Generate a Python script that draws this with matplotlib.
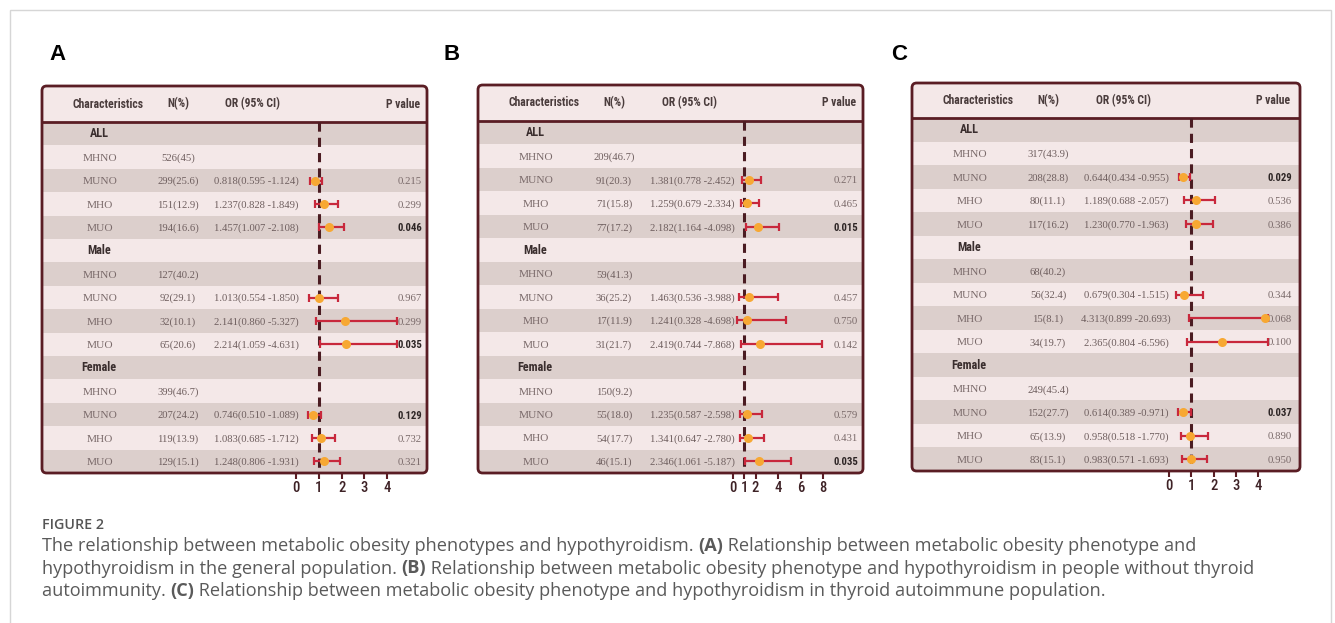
import matplotlib.pyplot as plt
import matplotlib.transforms as mtrans
from matplotlib import font_manager as fm
from matplotlib.patches import FancyBboxPatch, Rectangle

groups = ["ALL", "Male", "Female"]
phenotypes = ["MHNO", "MUNO", "MHO", "MUO"]

# panel A: general population
A_n = ["526(45)", "299(25.6)", "151(12.9)", "194(16.6)",
       "127(40.2)", "92(29.1)", "32(10.1)", "65(20.6)",
       "399(46.7)", "207(24.2)", "119(13.9)", "129(15.1)"]
A_or = [None, 0.818, 1.237, 1.457, None, 1.013, 2.141, 2.214, None, 0.746, 1.083, 1.248]
A_lo = [None, 0.595, 0.828, 1.007, None, 0.554, 0.860, 1.059, None, 0.510, 0.685, 0.806]
A_hi = [None, 1.124, 1.849, 2.108, None, 1.850, 5.327, 4.631, None, 1.089, 1.712, 1.931]
A_p = [None, "0.215", "0.299", "0.046", None, "0.967", "0.299", "0.035", None, "0.129", "0.732", "0.321"]
A_bold = ["0.046", "0.035", "0.129"]
A_ticks = [0, 1, 2, 3, 4]

# panel B: without thyroid autoimmunity
B_n = ["209(46.7)", "91(20.3)", "71(15.8)", "77(17.2)",
       "59(41.3)", "36(25.2)", "17(11.9)", "31(21.7)",
       "150(9.2)", "55(18.0)", "54(17.7)", "46(15.1)"]
B_or = [None, 1.381, 1.259, 2.182, None, 1.463, 1.241, 2.419, None, 1.235, 1.341, 2.346]
B_lo = [None, 0.778, 0.679, 1.164, None, 0.536, 0.328, 0.744, None, 0.587, 0.647, 1.061]
B_hi = [None, 2.452, 2.334, 4.098, None, 3.988, 4.698, 7.868, None, 2.598, 2.780, 5.187]
B_p = [None, "0.271", "0.465", "0.015", None, "0.457", "0.750", "0.142", None, "0.579", "0.431", "0.035"]
B_bold = ["0.015", "0.035"]
B_ticks = [0, 1, 2, 4, 6, 8]

# panel C: thyroid autoimmune population
C_n = ["317(43.9)", "208(28.8)", "80(11.1)", "117(16.2)",
       "68(40.2)", "56(32.4)", "15(8.1)", "34(19.7)",
       "249(45.4)", "152(27.7)", "65(13.9)", "83(15.1)"]
C_or = [None, 0.644, 1.189, 1.230, None, 0.679, 4.313, 2.365, None, 0.614, 0.958, 0.983]
C_lo = [None, 0.434, 0.688, 0.770, None, 0.304, 0.899, 0.804, None, 0.389, 0.518, 0.571]
C_hi = [None, 0.955, 2.057, 1.963, None, 1.515, 20.693, 6.596, None, 0.971, 1.770, 1.693]
C_p = [None, "0.029", "0.536", "0.386", None, "0.344", "0.068", "0.100", None, "0.037", "0.890", "0.950"]
C_bold = ["0.029", "0.037"]
C_ticks = [0, 1, 2, 3, 4]

W, H = 1335, 623
BORDER = "#5a1d24"
DARK = "#dccfcc"
LIGHT = "#f4e8e8"
SERIF = "Liberation Serif"

# a narrow sans if one is installed, else Liberation Sans
have = {(f.name, f.stretch) for f in fm.fontManager.ttflist}
SANS, STRETCH = "Liberation Sans", "normal"
for name, st in [("Liberation Sans Narrow", None), ("Roboto Condensed", None),
                 ("Noto Sans", "condensed"), ("Open Sans Condensed", None)]:
    if any(n == name and (st is None or s == st) for n, s in have):
        SANS, STRETCH = name, (st or "normal")
        break

fig = plt.figure(figsize=(W / 100, H / 100), dpi=100)
renderer = fig.canvas.get_renderer()


def fit(s, target, family, weight="normal", stretch="normal", cap=11.0):
    t = fig.text(0, 0, s, family=family, fontsize=10, fontweight=weight, fontstretch=stretch)
    w = t.get_window_extent(renderer).width
    t.remove()
    return min(cap, 10 * target / w)


HDR = fit("Characteristics", 71, SANS, "bold", STRETCH)
GRP = fit("Female", 35, SANS, "bold", STRETCH)
LAB = fit("MHNO", 35, SERIF)
VAL = fit("0.818(0.595 -1.124)", 85, SERIF)
PV = fit("0.215", 24, SERIF)
PB = fit("0.046", 25, SANS, "bold", STRETCH)

# outer light frame
fig.patches.append(Rectangle((10 / W, -0.1), 1321 / W, 1.1 - 10 / H, transform=fig.transFigure,
                             fill=False, ec="#d6d6d6", lw=1))


def panel(box, hdr_h, x0, ppu, ticks, n, orv, lo, hi, p, pbold, clip):
    left, top, right, bottom = box
    bw = right - left
    ax = fig.add_axes([left / W, 1 - bottom / H, bw / W, (bottom - top) / H])
    row_px = (bottom - top - hdr_h) / 15
    hdr = hdr_h / row_px
    ax.set_xlim((left - x0) / ppu, (right - x0) / ppu)
    ax.set_ylim(15, -hdr)
    for s in ax.spines.values():
        s.set_visible(False)
    ax.set_facecolor("none")
    ax.set_yticks([])
    ax.set_xticks(ticks)
    ax.tick_params(axis="x", direction="out", length=4, width=1.5, color=BORDER,
                   labelsize=10.5, labelcolor="#3e2226", pad=1.5)
    for t in ax.get_xticklabels():
        t.set_family(SANS)
        t.set_fontstretch(STRETCH)
        t.set_fontweight("medium")

    ax.axhspan(-hdr, 0, color=LIGHT, lw=0)
    for i in range(15):
        ax.axhspan(i, i + 1, color=DARK if i % 2 == 0 else LIGHT, lw=0)
    ax.axhline(0, color=BORDER, lw=2)
    ax.add_patch(FancyBboxPatch((0, 0), 1, 1, boxstyle="round,pad=0,rounding_size=0.012",
                                transform=ax.transAxes, fc="none", ec=BORDER, lw=2,
                                clip_on=False, zorder=6))
    ax.vlines(1, 0, 15, colors="#4b1c22", linestyles=(0, (3, 2)), lw=2.2, zorder=3)

    tr = mtrans.blended_transform_factory(ax.transAxes, ax.transData)
    hy = -hdr / 2
    hkw = dict(transform=tr, va="center", family=SANS, fontstretch=STRETCH, fontsize=HDR,
               fontweight="bold", color="#4a3c3c")
    ax.text(66 / bw, hy, "Characteristics", ha="center", **hkw)
    ax.text(136 / bw, hy, "N(%)", ha="center", **hkw)
    ax.text(211 / bw, hy, "OR (95% CI)", ha="center", **hkw)
    ax.text(378 / bw, hy, "P value", ha="right", **hkw)

    k = 0
    for gi, g in enumerate(groups):
        r = gi * 5
        ax.text(57 / bw, r + 0.5, g, transform=tr, ha="center", va="center", family=SANS,
                fontstretch=STRETCH, fontsize=GRP, fontweight="bold", color="#3a2e2e")
        for ph in phenotypes:
            r += 1
            y = r + 0.55
            ax.text(58 / bw, y, ph, transform=tr, ha="center", va="center", family=SERIF,
                    fontsize=LAB, color="#7a6a6a")
            ax.text(136 / bw, y, n[k], transform=tr, ha="center", va="center", family=SERIF,
                    fontsize=VAL, color="#6e5e5e")
            if orv[k] is not None:
                ax.text(214 / bw, y, f"{orv[k]:.3f}({lo[k]:.3f} -{hi[k]:.3f})", transform=tr,
                        ha="center", va="center", family=SERIF, fontsize=VAL, color="#6e5e5e")
                if p[k] in pbold:
                    ax.text(380 / bw, y, p[k], transform=tr, ha="right", va="center",
                            family=SANS, fontstretch=STRETCH, fontsize=PB, fontweight="bold",
                            color="#2e2626")
                else:
                    ax.text(380 / bw, y, p[k], transform=tr, ha="right", va="center",
                            family=SERIF, fontsize=PV, color="#7a6a6a")
                h = min(hi[k], clip)
                ax.errorbar(orv[k], r + 0.5, xerr=[[orv[k] - lo[k]], [h - orv[k]]], fmt="none",
                            ecolor="#c8283c", elinewidth=1.6, capsize=3, capthick=1.6, zorder=4)
                ax.plot(orv[k], r + 0.5, "o", color="#f7a833", ms=6.5, mec="none", zorder=5)
            k += 1
    return ax


panel((42, 86, 427, 473), 36, 296, 22.8, A_ticks, A_n, A_or, A_lo, A_hi, A_p, A_bold, 4.45)
panel((478, 85, 863, 473), 36, 733, 11.25, B_ticks, B_n, B_or, B_lo, B_hi, B_p, B_bold, 9)
panel((912, 83, 1300, 471), 35, 1169, 22.3, C_ticks, C_n, C_or, C_lo, C_hi, C_p, C_bold, 4.45)

for letter, x in [("A", 58), ("B", 452), ("C", 899)]:
    fig.text(x / W, 1 - 55 / H, letter, ha="center", va="center", family="Liberation Sans",
             fontsize=16, fontweight="bold", color="black")

# caption
CAP = ["Open Sans", "DejaVu Sans"]
CAP_SIZE = 13.1
fig.text(42 / W, 1 - 525 / H, "FIGURE 2", ha="left", va="center", family=CAP,
         fontsize=10.3, fontweight="semibold", color="#555555")
cap_lines = [
    [("The relationship between metabolic obesity phenotypes and hypothyroidism. ", False), ("(A)", True),
     (" Relationship between metabolic obesity phenotype and", False)],
    [("hypothyroidism in the general population. ", False), ("(B)", True),
     (" Relationship between metabolic obesity phenotype and hypothyroidism in people without thyroid", False)],
    [("autoimmunity. ", False), ("(C)", True),
     (" Relationship between metabolic obesity phenotype and hypothyroidism in thyroid autoimmune population.", False)],
]


def text_width(s, bold):
    def w(txt):
        t = fig.text(0, 0, txt, family=CAP, fontsize=CAP_SIZE, fontweight="bold" if bold else "normal")
        e = t.get_window_extent(renderer).width
        t.remove()
        return e
    return w("|" + s + "|") - w("||")


for li, pieces in enumerate(cap_lines):
    x = 42
    y = 1 - (546 + li * 22.5) / H
    for s, bold in pieces:
        fig.text(x / W, y, s, ha="left", va="center", family=CAP, fontsize=CAP_SIZE,
                 fontweight="bold" if bold else "normal", color="#5a5a5a")
        x += text_width(s, bold)

fig.savefig("out.png", dpi=100)
